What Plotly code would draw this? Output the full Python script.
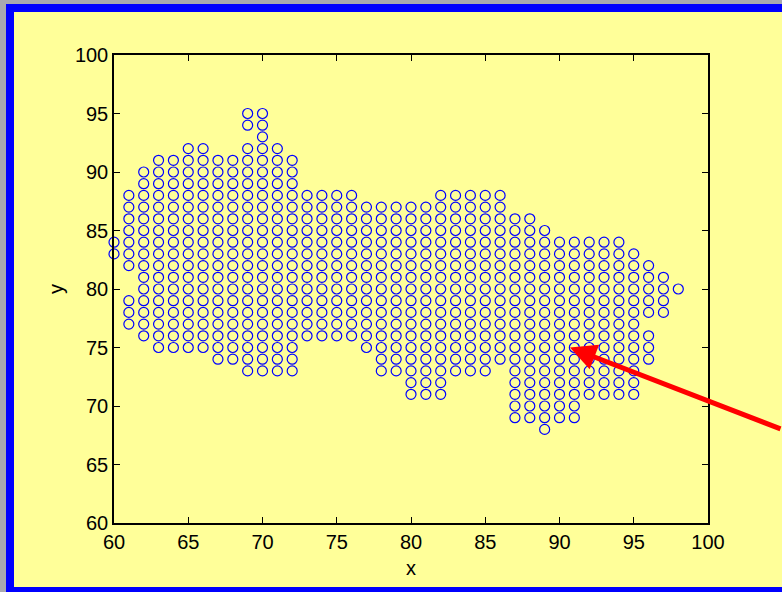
import plotly.graph_objects as go

# Grid cells of the region, stored column by column as vertical runs:
# each run covers integer y values from run_lo to run_hi at column run_x.
run_x  = [60, 61, 61, 62, 63, 64, 65, 66, 67, 68, 69, 69, 70, 71, 72, 73, 74, 75, 76, 77,
          78, 79, 80, 81, 82, 83, 84, 85, 86, 87, 88, 89, 90, 91, 92, 93, 94, 95, 96, 96,
          97, 98]
run_lo = [83, 77, 82, 76, 75, 75, 75, 75, 74, 74, 73, 94, 73, 73, 73, 76, 76, 76, 76, 75,
          73, 73, 71, 71, 71, 73, 73, 73, 74, 69, 69, 68, 69, 69, 71, 71, 71, 71, 74, 78,
          78, 80]
run_hi = [84, 79, 88, 90, 91, 91, 92, 92, 91, 91, 92, 95, 95, 92, 91, 88, 88, 88, 88, 87,
          87, 87, 87, 87, 88, 88, 88, 88, 88, 86, 86, 85, 84, 84, 84, 84, 84, 83, 76, 82,
          81, 80]

x_ticks = [60, 65, 70, 75, 80, 85, 90, 95, 100]
y_ticks = [60, 65, 70, 75, 80, 85, 90, 95, 100]

# Arrow pointing at one cell of the grid
arrow_x, arrow_y = 90.7, 75.0

xs, ys = [], []
for cx, lo, hi in zip(run_x, run_lo, run_hi):
    for cy in range(lo, hi + 1):
        xs.append(cx)
        ys.append(cy)

W, H = 782, 592
L, R, T, B = 114, 74, 55, 69
PW, PH = W - L - R, H - T - B


def px(xp):
    return (xp - L) / PW


def py(yp):
    return (H - B - yp) / PH


YELLOW = "#ffff99"
BLUE = "#0000ff"

fig = go.Figure()
fig.add_trace(go.Scatter(
    x=xs, y=ys, mode="markers",
    marker=dict(symbol="circle-open", size=10, color=BLUE, line=dict(width=1.2, color=BLUE)),
    cliponaxis=False, hoverinfo="x+y", showlegend=False,
))

fig.add_annotation(
    x=arrow_x, y=arrow_y, xref="x", yref="y",
    text="", showarrow=True,
    axref="pixel", ayref="pixel", ax=232, ay=82,
    arrowhead=2, arrowsize=1.05, arrowwidth=5, arrowcolor="#ff0000",
)

shapes = [
    # blue frame
    dict(type="rect", xref="paper", yref="paper", x0=px(6), x1=px(800), y0=py(4), y1=py(600),
         fillcolor=BLUE, line=dict(width=0), layer="below"),
    # yellow figure area
    dict(type="rect", xref="paper", yref="paper", x0=px(14), x1=px(800), y0=py(12), y1=py(587),
         fillcolor=YELLOW, line=dict(width=0), layer="below"),
]

axis_font = dict(family="Liberation Sans, Arial, sans-serif", size=20, color="black")

fig.update_layout(
    width=W, height=H,
    margin=dict(l=L, r=R, t=T, b=B, pad=0),
    paper_bgcolor="#a8a8b0",
    plot_bgcolor=YELLOW,
    shapes=shapes,
    font=axis_font,
    xaxis=dict(
        range=[60, 100], tickvals=x_ticks, ticktext=[str(v) for v in x_ticks],
        ticks="inside", ticklen=6, tickwidth=1.2, tickcolor="black",
        showline=True, linecolor="black", linewidth=1.5, mirror="ticks",
        showgrid=False, zeroline=False, tickfont=axis_font,
        title=dict(text="x", font=axis_font, standoff=9),
    ),
    yaxis=dict(
        range=[60, 100], tickvals=y_ticks, ticktext=[str(v) for v in y_ticks],
        ticks="inside", ticklen=6, tickwidth=1.2, tickcolor="black",
        showline=True, linecolor="black", linewidth=1.5, mirror="ticks",
        showgrid=False, zeroline=False, tickfont=axis_font,
        title=dict(text="y", font=axis_font, standoff=6),
    ),
)

fig.write_html("out.html")
